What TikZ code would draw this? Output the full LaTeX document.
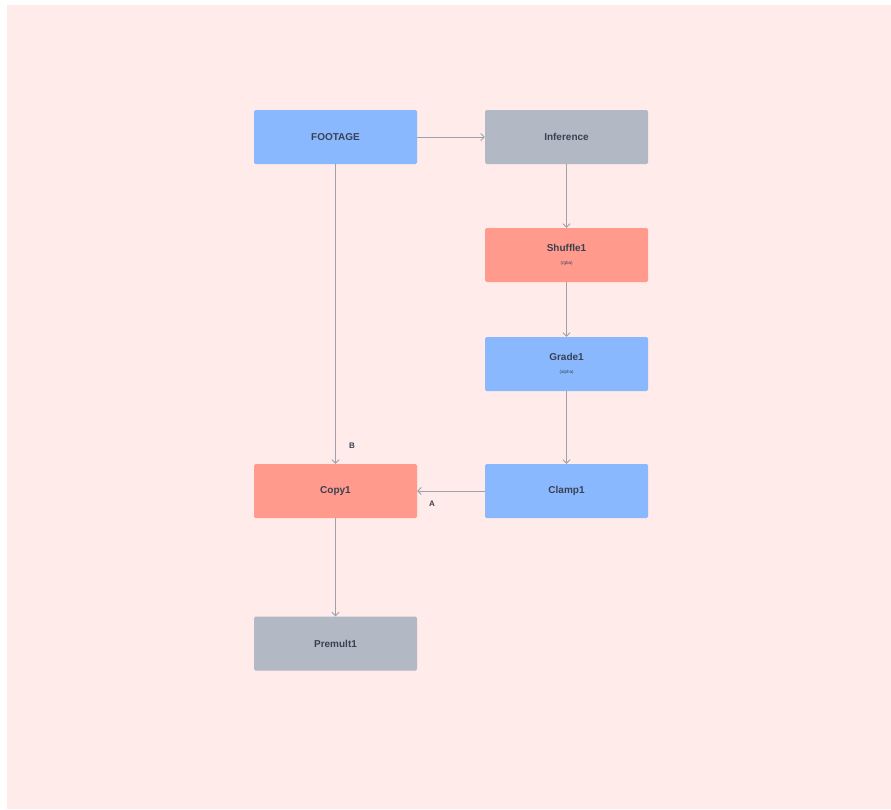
\documentclass[tikz,border=0pt]{standalone}
\usepackage{fontspec}
\setmainfont{Liberation Sans}
\usetikzlibrary{arrows.meta}

\definecolor{bgpink}{HTML}{FFEBE9}
\definecolor{nodeblue}{HTML}{8AB8FF}
\definecolor{nodegray}{HTML}{B2B9C4}
\definecolor{nodered}{HTML}{FF9A8C}
\definecolor{inkdark}{HTML}{3A4052}
\definecolor{wiregray}{HTML}{9DA1AA}

\begin{document}
\begin{tikzpicture}[x=1pt,y=-1pt,
  box/.style={minimum width=163pt, minimum height=54pt, rounded corners=1.5pt, inner sep=0pt, align=center, text=inkdark, font=\fontsize{10}{12}\selectfont\bfseries},
  wire/.style={draw=wiregray, line width=0.8pt, -{Straight Barb[length=3.5pt,width=7pt]}},
  tag/.style={text=inkdark, font=\fontsize{8}{9}\selectfont\bfseries}]
  \useasboundingbox (0,0) rectangle (891,809);
  \fill[bgpink] (7,5) rectangle (891,809);

  \node[box, fill=nodeblue] (footage) at (335.5,137) {FOOTAGE};
  \node[box, fill=nodegray] (inference) at (566.5,137) {Inference};
  \node[box, fill=nodered] (shuffle) at (566.5,255) {Shuffle1\\[1pt]{\fontsize{4.5}{5}\selectfont\mdseries (rgba)}};
  \node[box, fill=nodeblue] (grade) at (566.5,364) {Grade1\\[1pt]{\fontsize{4.5}{5}\selectfont\mdseries (alpha)}};
  \node[box, fill=nodeblue] (clamp) at (566.5,491) {Clamp1};
  \node[box, fill=nodered] (copy) at (335.5,491) {Copy1};
  \node[box, fill=nodegray] (premult) at (335.5,643.5) {Premult1};

  \draw[wire] (footage) -- (inference);
  \draw[wire] (inference) -- (shuffle);
  \draw[wire] (shuffle) -- (grade);
  \draw[wire] (grade) -- (clamp);
  \draw[wire] (clamp) -- node[tag, pos=0.78, below=6pt] (lbla) {A} (copy);
  \draw[wire] (footage) -- node[tag, pos=0.94, right=10pt] (lblb) {B} (copy);
  \draw[wire] (copy) -- (premult);

\end{tikzpicture}
\end{document}
